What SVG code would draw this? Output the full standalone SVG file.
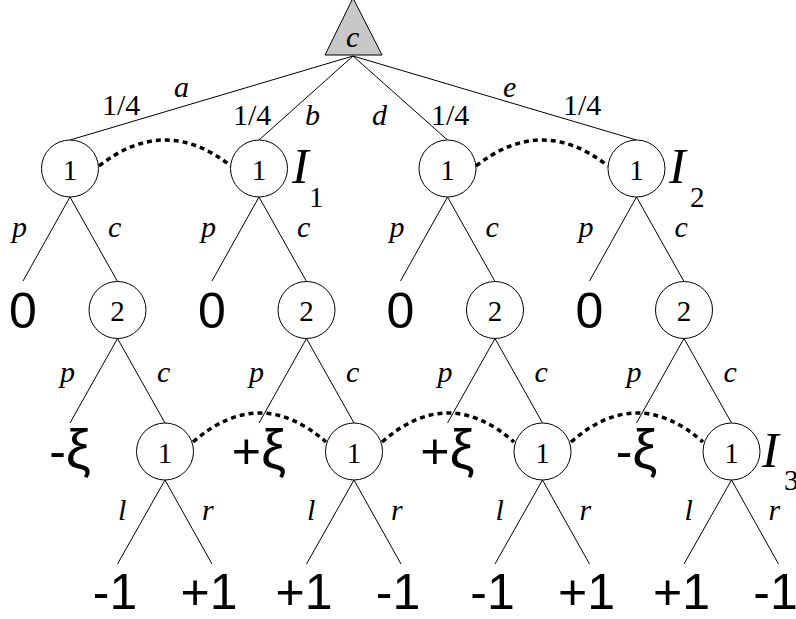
<svg xmlns="http://www.w3.org/2000/svg" width="796" height="619" viewBox="0 0 796 619">
<style>
.e{stroke:#000;stroke-width:1;fill:none}
.n{fill:#fff;stroke:#000;stroke-width:1}
.d{stroke:#000;stroke-width:3.5;fill:none;stroke-dasharray:5 4}
.t{font-family:'Liberation Serif','Times New Roman','DejaVu Serif',serif;font-size:30px;fill:#000}
.i{font-family:'Liberation Serif','Times New Roman','DejaVu Serif',serif;font-style:italic;font-size:30px;fill:#000}
.ct{font-family:'Liberation Serif','Times New Roman','DejaVu Serif',serif;font-size:29px;fill:#000;text-anchor:middle}
.v{font-family:'Liberation Sans',Arial,sans-serif;font-size:50px;fill:#000;text-anchor:middle}
.x{font-size:56px}
.I{font-family:'Liberation Serif','Times New Roman','DejaVu Serif',serif;font-style:italic;font-size:50px;fill:#000}
.s{font-family:'Liberation Serif','Times New Roman','DejaVu Serif',serif;font-size:29px;fill:#000}
</style>
<rect width="796" height="619" fill="#fff"/>
<g id="connectors">
<line class="e" x1="353" y1="56" x2="70" y2="140"/>
<line class="e" x1="353" y1="56" x2="259" y2="140"/>
<line class="e" x1="353" y1="56" x2="447.5" y2="140"/>
<line class="e" x1="353" y1="56" x2="636.5" y2="140"/>
<g id="e0">
<line class="e" x1="70" y1="197" x2="23" y2="281"/>
<line class="e" x1="70" y1="197" x2="117.5" y2="281.5"/>
<line class="e" x1="117.5" y1="338.5" x2="70" y2="423"/>
<line class="e" x1="117.5" y1="338.5" x2="165" y2="423"/>
<line class="e" x1="165" y1="480" x2="117.5" y2="564"/>
<line class="e" x1="165" y1="480" x2="212" y2="564"/>
</g>
<g id="e1">
<line class="e" x1="259" y1="197" x2="212" y2="281"/>
<line class="e" x1="259" y1="197" x2="306.5" y2="281.5"/>
<line class="e" x1="306.5" y1="338.5" x2="259" y2="423"/>
<line class="e" x1="306.5" y1="338.5" x2="354" y2="423"/>
<line class="e" x1="354" y1="480" x2="306.5" y2="564"/>
<line class="e" x1="354" y1="480" x2="401" y2="564"/>
</g>
<g id="e2">
<line class="e" x1="447.5" y1="197" x2="400.5" y2="281"/>
<line class="e" x1="447.5" y1="197" x2="495" y2="281.5"/>
<line class="e" x1="495" y1="338.5" x2="447.5" y2="423"/>
<line class="e" x1="495" y1="338.5" x2="542.5" y2="423"/>
<line class="e" x1="542.5" y1="480" x2="495" y2="564"/>
<line class="e" x1="542.5" y1="480" x2="589.5" y2="564"/>
</g>
<g id="e3">
<line class="e" x1="636.5" y1="197" x2="589.5" y2="281"/>
<line class="e" x1="636.5" y1="197" x2="684" y2="281.5"/>
<line class="e" x1="684" y1="338.5" x2="636.5" y2="423"/>
<line class="e" x1="684" y1="338.5" x2="731.5" y2="423"/>
<line class="e" x1="731.5" y1="480" x2="684" y2="564"/>
<line class="e" x1="731.5" y1="480" x2="778.5" y2="564"/>
</g>
<path class="d" d="M99,166 Q165,114 231,166"/>
<path class="d" d="M476,166 Q542,114 608,166"/>
<path class="d" d="M193,442 Q259.5,384 326,442"/>
<path class="d" d="M382,442 Q448,384 514,442"/>
<path class="d" d="M571,442 Q637,384 703,442"/>
</g>
<g id="edge-labels">
<text class="t" x="102" y="115">1/4</text>
<text class="i" x="174" y="97">a</text>
<text class="t" x="233" y="125">1/4</text>
<text class="i" x="305" y="125">b</text>
<text class="i" x="372" y="125">d</text>
<text class="t" x="431" y="125">1/4</text>
<text class="i" x="503" y="97">e</text>
<text class="t" x="563" y="115">1/4</text>
</g>
<g id="root">
<polygon points="325,55 382,55 353,-2" fill="#c8c8c8" stroke="#000" stroke-width="1"/>
<text class="i" x="346" y="47">c</text>
</g>
<g id="group0">
<g id="n1a"><circle class="n" cx="70" cy="168.5" r="28.5"/><text class="ct" x="70" y="180">1</text></g>
<g id="n2a"><circle class="n" cx="117.5" cy="310" r="28.5"/><text class="ct" x="117.5" y="321">2</text></g>
<g id="n3a"><circle class="n" cx="165" cy="451.5" r="28.5"/><text class="ct" x="165" y="463">1</text></g>
<text class="i" x="12" y="237">p</text><text class="i" x="108" y="237">c</text>
<text class="i" x="60" y="382">p</text><text class="i" x="157" y="382">c</text>
<text class="i" x="118" y="520">l</text><text class="i" x="202" y="520">r</text>
<text class="v" x="23" y="328">0</text>
<text class="v" x="70" y="468">-<tspan class="x">ξ</tspan></text>
<text class="v" x="115" y="609">-1</text>
<text class="v" x="209" y="609">+1</text>
</g>
<g id="group1">
<g id="n1b"><circle class="n" cx="259" cy="168.5" r="28.5"/><text class="ct" x="259" y="180">1</text></g>
<g id="n2b"><circle class="n" cx="306.5" cy="310" r="28.5"/><text class="ct" x="306.5" y="321">2</text></g>
<g id="n3b"><circle class="n" cx="354" cy="451.5" r="28.5"/><text class="ct" x="354" y="463">1</text></g>
<text class="i" x="201" y="237">p</text><text class="i" x="297" y="237">c</text>
<text class="i" x="249" y="382">p</text><text class="i" x="346" y="382">c</text>
<text class="i" x="307" y="520">l</text><text class="i" x="391" y="520">r</text>
<text class="v" x="212" y="328">0</text>
<text class="v" x="259" y="468">+<tspan class="x">ξ</tspan></text>
<text class="v" x="304" y="609">+1</text>
<text class="v" x="398" y="609">-1</text>
</g>
<g id="group2">
<g id="n1c"><circle class="n" cx="447.5" cy="168.5" r="28.5"/><text class="ct" x="447.5" y="180">1</text></g>
<g id="n2c"><circle class="n" cx="495" cy="310" r="28.5"/><text class="ct" x="495" y="321">2</text></g>
<g id="n3c"><circle class="n" cx="542.5" cy="451.5" r="28.5"/><text class="ct" x="542.5" y="463">1</text></g>
<text class="i" x="389.5" y="237">p</text><text class="i" x="485.5" y="237">c</text>
<text class="i" x="437.5" y="382">p</text><text class="i" x="534.5" y="382">c</text>
<text class="i" x="495.5" y="520">l</text><text class="i" x="579.5" y="520">r</text>
<text class="v" x="400.5" y="328">0</text>
<text class="v" x="447.5" y="468">+<tspan class="x">ξ</tspan></text>
<text class="v" x="492.5" y="609">-1</text>
<text class="v" x="586.5" y="609">+1</text>
</g>
<g id="group3">
<g id="n1d"><circle class="n" cx="636.5" cy="168.5" r="28.5"/><text class="ct" x="636.5" y="180">1</text></g>
<g id="n2d"><circle class="n" cx="684" cy="310" r="28.5"/><text class="ct" x="684" y="321">2</text></g>
<g id="n3d"><circle class="n" cx="731.5" cy="451.5" r="28.5"/><text class="ct" x="731.5" y="463">1</text></g>
<text class="i" x="578.5" y="237">p</text><text class="i" x="674.5" y="237">c</text>
<text class="i" x="626.5" y="382">p</text><text class="i" x="723.5" y="382">c</text>
<text class="i" x="684.5" y="520">l</text><text class="i" x="768.5" y="520">r</text>
<text class="v" x="589.5" y="328">0</text>
<text class="v" x="636.5" y="468">-<tspan class="x">ξ</tspan></text>
<text class="v" x="681.5" y="609">+1</text>
<text class="v" x="775.5" y="609">-1</text>
</g>
<g id="infosets">
<text class="I" x="292" y="183">I</text><text class="s" x="309" y="207">1</text>
<text class="I" x="669" y="183">I</text><text class="s" x="690" y="207">2</text>
<text class="I" x="762" y="467">I</text><text class="s" x="784" y="490">3</text>
</g>
</svg>
